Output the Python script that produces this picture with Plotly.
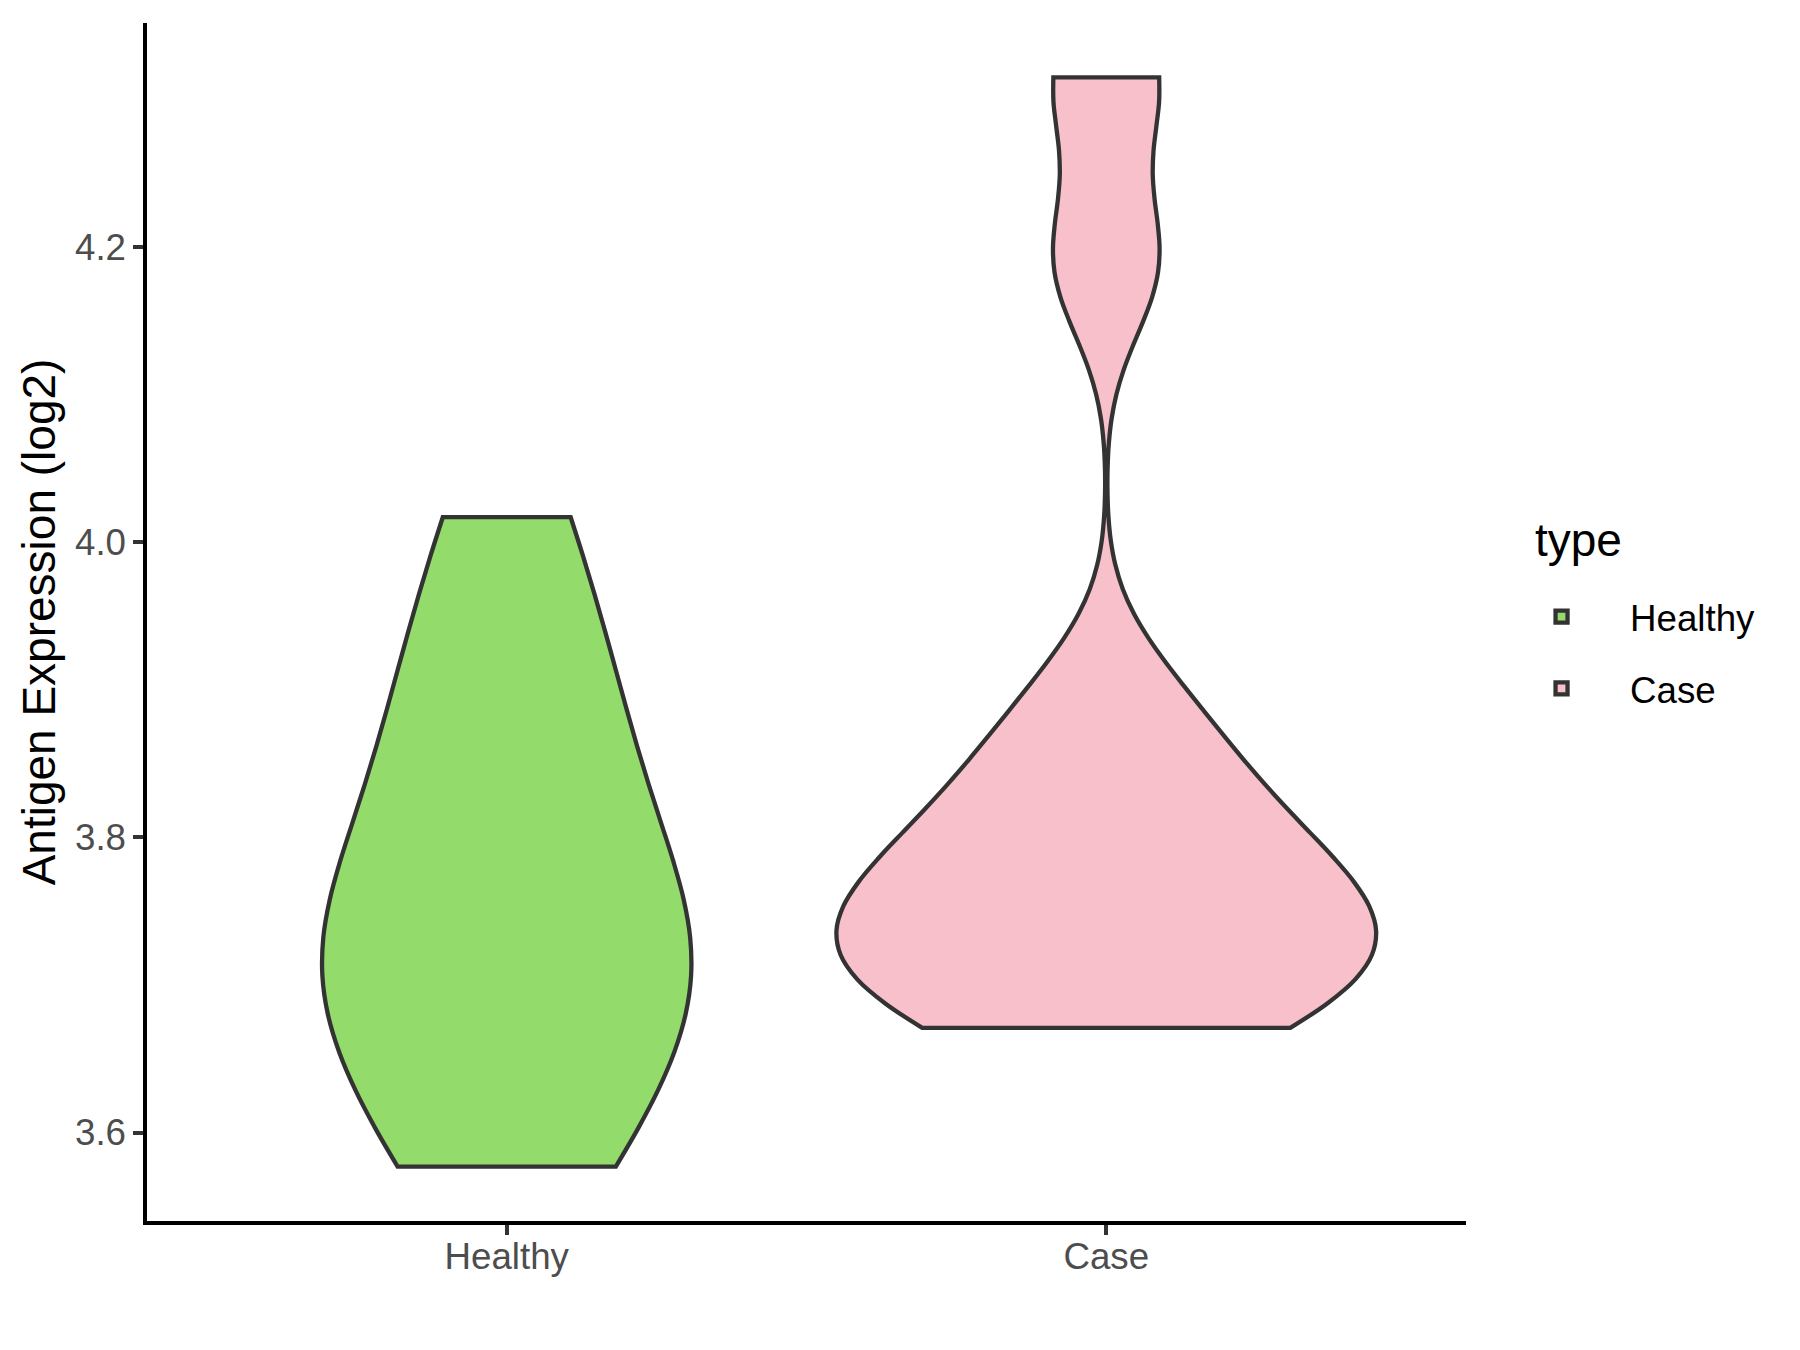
import plotly.graph_objects as go

# ---- data ----
categories = ["Healthy", "Case"]
healthy_values = [3.577, 3.605, 3.68, 3.70, 3.72, 3.76, 3.81, 3.87, 3.925, 4.017]
case_values = [3.671, 3.69, 3.712, 3.73, 3.748, 3.77, 3.80, 3.835, 3.89, 4.19, 4.315]
fill_colors = ["#93DB6B", "#F7C0CB"]
bandwidths = [0.08, 0.05]
violin_widths = [0.615, 0.9]
y_ticks = [3.6, 3.8, 4.0, 4.2]
y_tick_labels = ["3.6", "3.8", "4.0", "4.2"]
legend_title = "type"
y_title = "Antigen Expression (log2)"

series = [healthy_values, case_values]

fig = go.Figure()
for cat, vals, col, bw, w in zip(categories, series, fill_colors, bandwidths, violin_widths):
    fig.add_trace(go.Violin(
        x=[cat] * len(vals),
        y=vals,
        name=cat,
        legendgroup=cat,
        scalegroup=cat,
        scalemode="width",
        width=w,
        bandwidth=bw,
        spanmode="hard",
        points=False,
        box_visible=False,
        meanline_visible=False,
        fillcolor=col,
        opacity=1,
        line=dict(color="#333333", width=4.3),
        hoverinfo="skip",
    ))

ymin, ymax = min(min(s) for s in series), max(max(s) for s in series)
pad = (ymax - ymin) * 0.05

font_family = "Liberation Sans, Arial, sans-serif"

fig.update_layout(
    template="none",
    width=1800,
    height=1350,
    margin=dict(l=139, r=342, t=15, b=137, pad=0),
    paper_bgcolor="white",
    plot_bgcolor="white",
    font=dict(family=font_family, color="black"),
    showlegend=True,
    legend=dict(
        font=dict(size=36.7, color="black"),
        x=1.0205, xanchor="left",
        y=0.5298, yanchor="top",
        itemwidth=127,
        tracegroupgap=21,
        bgcolor="rgba(0,0,0,0)",
        borderwidth=0,
    ),
    annotations=[dict(
        text=legend_title, xref="paper", yref="paper",
        x=1.0508, y=0.5685, xanchor="left", yanchor="middle",
        showarrow=False, font=dict(size=46, color="black"),
    )],
    xaxis=dict(
        type="category",
        categoryorder="array",
        categoryarray=categories,
        range=[-0.6, 1.6],
        automargin=False,
        showline=True, linecolor="black", linewidth=4.3,
        ticks="outside", ticklen=9.5, tickwidth=4, tickcolor="#333333",
        tickfont=dict(size=36.7, color="#4D4D4D"),
        ticklabelstandoff=-10,
        showgrid=False, zeroline=False,
    ),
    yaxis=dict(
        range=[ymin - pad, ymax + pad],
        automargin=False,
        tickvals=y_ticks,
        ticktext=y_tick_labels,
        showline=True, linecolor="black", linewidth=4.3,
        ticks="outside", ticklen=9.5, tickwidth=4, tickcolor="#333333",
        tickfont=dict(size=36.7, color="#4D4D4D"),
        title=dict(text=y_title, font=dict(size=46, color="black"), standoff=6),
        showgrid=False, zeroline=False,
    ),
)

fig.write_html("out.html")
